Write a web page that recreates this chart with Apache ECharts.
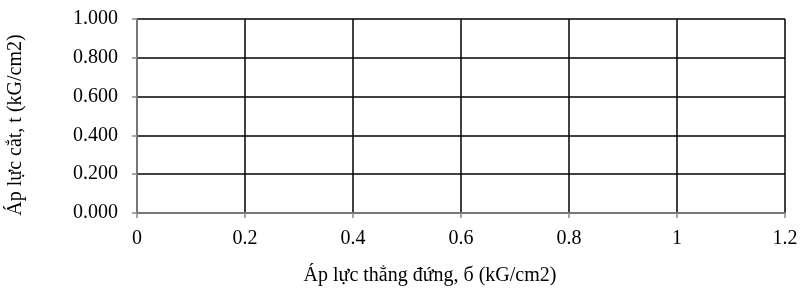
<!DOCTYPE html>
<html><head><meta charset="utf-8">
<script src="https://cdn.jsdelivr.net/npm/echarts@6/dist/echarts.min.js"></script>
<style>html,body{margin:0;padding:0;background:#fff}#c{width:810px;height:289px}</style>
</head><body><div id="c"></div>
<script>
var xMin = 0, xMax = 1.2, xStep = 0.2;
var yMin = 0, yMax = 1.0, yStep = 0.2;
var xName = 'Áp lực thẳng đứng, б (kG/cm2)';
var yName = 'Áp lực cắt, t (kG/cm2)';
var seriesData = [];
var font = '"Liberation Serif","Times New Roman",serif';
var chart = echarts.init(document.getElementById('c'));
chart.setOption({
  animation: false,
  grid: {left: 137, right: 25, top: 19, bottom: 76, outerBoundsMode: 'none', containLabel: false},
  xAxis: {
    type: 'value', min: xMin, max: xMax, interval: xStep,
    name: xName, nameLocation: 'middle', nameGap: 53,
    nameTextStyle: {fontFamily: font, fontSize: 20, color: '#000', padding: [0, 62, 0, 0]},
    axisLine: {show: true, onZero: false, lineStyle: {color: '#898989', width: 1.5}},
    axisTick: {show: true, length: 5, lineStyle: {color: '#898989', width: 1.5}},
    axisLabel: {fontFamily: font, fontSize: 20, color: '#000', margin: 16,
      formatter: function(v){ return String(+v.toFixed(1)); }},
    splitLine: {show: true, lineStyle: {color: '#000', width: 1.5}}
  },
  yAxis: {
    type: 'value', min: yMin, max: yMax, interval: yStep,
    name: yName, nameLocation: 'middle', nameGap: 111,
    nameTextStyle: {fontFamily: font, fontSize: 20, color: '#000', padding: [0, 18, 0, 0]},
    axisLine: {show: true, lineStyle: {color: '#898989', width: 1.5}},
    axisTick: {show: true, length: 5, lineStyle: {color: '#898989', width: 1.5}},
    axisLabel: {fontFamily: font, fontSize: 20, color: '#000', margin: 19,
      formatter: function(v){ return v.toFixed(3); }},
    splitLine: {show: true, lineStyle: {color: '#000', width: 1.5}}
  },
  series: [{type: 'scatter', data: seriesData}]
});
</script></body></html>
